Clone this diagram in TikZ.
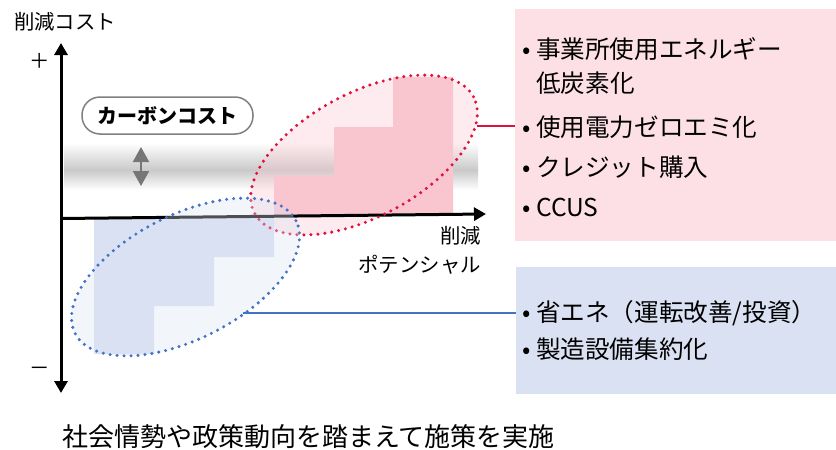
\documentclass[tikz,border=0pt]{standalone}
\usepackage{fontspec}
\setmainfont{Noto Sans CJK JP}
\usepackage{tikz}
\usetikzlibrary{arrows.meta}
\usetikzlibrary{shapes.geometric}
\definecolor{steppink}{RGB}{249,198,208}
\definecolor{dotred}{RGB}{224,16,58}
\definecolor{stepblue}{RGB}{218,225,242}
\definecolor{dotblue}{RGB}{68,114,196}
\definecolor{boxpink}{RGB}{253,224,230}
\definecolor{boxblue}{RGB}{218,225,242}
\definecolor{pillgray}{RGB}{128,128,128}
\definecolor{arrgray}{RGB}{118,118,118}
\tikzset{
grp/.style={
  ellipse,
  minimum width=248pt,
  minimum height=124pt,
  inner sep=0pt,
  outer sep=0pt
},
rim/.style={line width=3.4pt, line cap=round, dash pattern=on 0pt off 7pt},
axisline/.style={line width=3pt},
item/.style={anchor=west, inner sep=0pt, font=\fontsize{24.6}{28}\selectfont},
lbl/.style={inner sep=0pt, font=\fontsize{20.4}{29}\selectfont},
}
\newcommand{\bul}{\makebox[20pt]{•}}

\begin{document}
\begin{tikzpicture}[x=1pt,y=-1pt]
\useasboundingbox (0,0) rectangle (836,450);
% the cost band
\shade[top color=white, bottom color=black!21] (64,143) rectangle (478,170);
\shade[top color=black!21, bottom color=white] (64,170) rectangle (478,190);
% red group
\node[grp, fill=steppink, fill opacity=0.35, rotate=28] (redgrp) at (364,155) {};
\fill[steppink] (274,216.2) -- (274,176) -- (334,176) -- (334,127) -- (393,127)
  -- (393,77) -- (453,77) -- (453,214.4) -- cycle;
% blue steps
\fill[stepblue] (94,218.2) -- (274,216.2) -- (274,257) -- (214,257) -- (214,306)
  -- (154,306) -- (154,354) -- (94,354) -- cycle;
% the axes
\coordinate (ytop) at (61,43);
\coordinate (ybot) at (61,393);
\coordinate (xleft) at (61,218.5);
\coordinate (xright) at (486,214);
\draw[axisline, {Triangle[width=13pt,length=12pt]}-{Triangle[width=13pt,length=12pt]}] (ybot) -- (ytop);
\draw[axisline, -{Triangle[width=13pt,length=12pt]}] (xleft) -- (xright);
\node[rim, draw=dotred, grp, rotate=28] (redrim) at (redgrp) {};
% blue group
\node[grp, fill=stepblue, fill opacity=0.35, rotate=27] (bluegrp) at (185.5,277) {};
\node[rim, draw=dotblue, grp, rotate=27] (bluerim) at (bluegrp) {};
% labels
\node[lbl] (ylabel) at (65,22) {削減コスト};
\node[lbl] (plus) at (40,61) {＋};
\node[lbl] (minus) at (40,371) {－};
\node[lbl, anchor=north east, align=right] (xlabel) at (481,226) {削減\\ポテンシャル};
\node[draw=pillgray, line width=1.5pt, fill=white, rounded corners=18pt,
  minimum width=171pt, minimum height=37pt, inner sep=0pt,
  font=\fontsize{20}{24}\selectfont\bfseries] (carbon) at (167.5,115.5) {カーボンコスト};
\coordinate (costup) at (141,147);
\coordinate (costdn) at (141,186);
\draw[arrgray, line width=2pt, {Triangle[width=16pt,length=15pt]}-{Triangle[width=16pt,length=15pt]}] (costdn) -- (costup);
% the boxes
\node[fill=boxpink, minimum width=321pt, minimum height=232pt, inner sep=0pt] (pinkbox) at (675.5,125) {};
\node[fill=boxblue, minimum width=320pt, minimum height=127pt, inner sep=0pt] (bluebox) at (676,330.5) {};
\node[item] (r1) at (516,49) {\bul 事業所使用エネルギー};
\node[item] (r1b) at (536,83) {低炭素化};
\node[item] (r2) at (516,127) {\bul 使用電力ゼロエミ化};
\node[item] (r3) at (516,167) {\bul クレジット購入};
\node[item] (r4) at (516,207) {\bul CCUS};
\node[item] (b1) at (516,313) {\bul 省エネ（運転改善/投資）};
\node[item] (b2) at (516,349) {\bul 製造設備集約化};
% the links
\coordinate (redlink) at (477,126);
\coordinate (bluelink) at (243,313);
\draw[dotred, line width=2.8pt] (redlink) -- (redlink -| pinkbox.west);
\draw[dotblue, line width=2.8pt] (bluelink) -- (bluelink -| bluebox.west);
\node[anchor=west, inner sep=0pt, font=\fontsize{26}{30}\selectfont] (note) at (62,437) {社会情勢や政策動向を踏まえて施策を実施};
\end{tikzpicture}
\end{document}
